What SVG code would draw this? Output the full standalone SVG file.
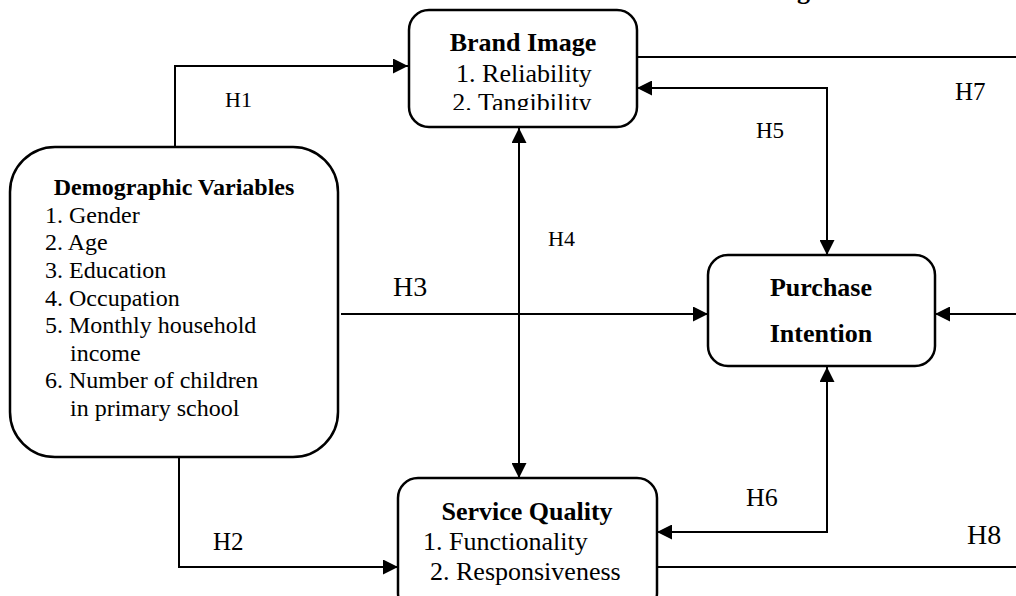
<svg xmlns="http://www.w3.org/2000/svg" width="1016" height="596" viewBox="0 0 1016 596">
<style>
.box{fill:#fff;stroke:#000;stroke-width:2.5}
.t{font-family:"Liberation Serif","Times New Roman",serif;fill:#000}
.b{font-weight:bold}
.c{fill:none;stroke:#000;stroke-width:2}
</style>
<defs>
<marker id="ah" markerUnits="userSpaceOnUse" markerWidth="15" markerHeight="15" refX="15" refY="7.5" orient="auto-start-reverse">
<path d="M0,0 L15,7.5 L0,15 z" fill="#000"/>
</marker>
<clipPath id="bclip"><rect x="409" y="10" width="228" height="100"/></clipPath>
</defs>
<rect width="1016" height="596" fill="#fff"/>
<text class="t b" x="797" y="-1.5" font-size="26">g</text>
<g id="connectors">
<path class="c" d="M175,147 V66 H408" marker-end="url(#ah)"/>
<path class="c" d="M179,457 V567 H398" marker-end="url(#ah)"/>
<path class="c" d="M341,314 H708" marker-end="url(#ah)"/>
<path class="c" d="M519,128 V478" marker-start="url(#ah)" marker-end="url(#ah)"/>
<path class="c" d="M637,88 H827 V255" marker-start="url(#ah)" marker-end="url(#ah)"/>
<path class="c" d="M657,532 H827 V367" marker-start="url(#ah)" marker-end="url(#ah)"/>
<path class="c" d="M637,57 H1016"/>
<path class="c" d="M657,567 H1016"/>
<path class="c" d="M1016,314 H935" marker-end="url(#ah)"/>
<text class="t" x="225" y="107" font-size="22">H1</text>
<text class="t" x="213" y="550" font-size="25">H2</text>
<text class="t" x="393" y="296" font-size="28">H3</text>
<text class="t" x="548" y="246" font-size="22">H4</text>
<text class="t" x="756" y="138" font-size="23">H5</text>
<text class="t" x="746" y="506" font-size="26">H6</text>
<text class="t" x="955" y="100" font-size="25">H7</text>
<text class="t" x="967" y="544" font-size="28">H8</text>
</g>
<g id="brand-image">
<rect class="box" x="409" y="10" width="228" height="117" rx="20"/>
<g clip-path="url(#bclip)" text-anchor="middle">
<text class="t b" x="523" y="51" font-size="26">Brand Image</text>
<text class="t" x="524" y="82" font-size="26">1. Reliability</text>
<text class="t" x="522" y="111" font-size="26">2. Tangibility</text>
</g>
</g>
<g id="demographic-variables">
<rect class="box" x="10" y="147" width="328" height="310" rx="45"/>
<text class="t b" x="174" y="195" font-size="24" text-anchor="middle">Demographic Variables</text>
<text class="t" x="45" y="223" font-size="24">1. Gender</text>
<text class="t" x="45" y="250" font-size="24">2. Age</text>
<text class="t" x="45" y="278" font-size="24">3. Education</text>
<text class="t" x="45" y="306" font-size="24">4. Occupation</text>
<text class="t" x="45" y="333" font-size="24">5. Monthly household</text>
<text class="t" x="70" y="361" font-size="24">income</text>
<text class="t" x="45" y="388" font-size="24">6. Number of children</text>
<text class="t" x="70" y="416" font-size="24">in primary school</text>
</g>
<g id="purchase-intention">
<rect class="box" x="708" y="255" width="227" height="111" rx="20"/>
<text class="t b" x="821" y="296" font-size="26" text-anchor="middle">Purchase</text>
<text class="t b" x="821" y="342" font-size="26" text-anchor="middle">Intention</text>
</g>
<g id="service-quality">
<rect class="box" x="398" y="478" width="259" height="135" rx="20"/>
<text class="t b" x="527" y="520" font-size="26" text-anchor="middle">Service Quality</text>
<text class="t" x="423" y="550" font-size="26">1. Functionality</text>
<text class="t" x="430" y="580" font-size="26">2. Responsiveness</text>
</g>
</svg>
